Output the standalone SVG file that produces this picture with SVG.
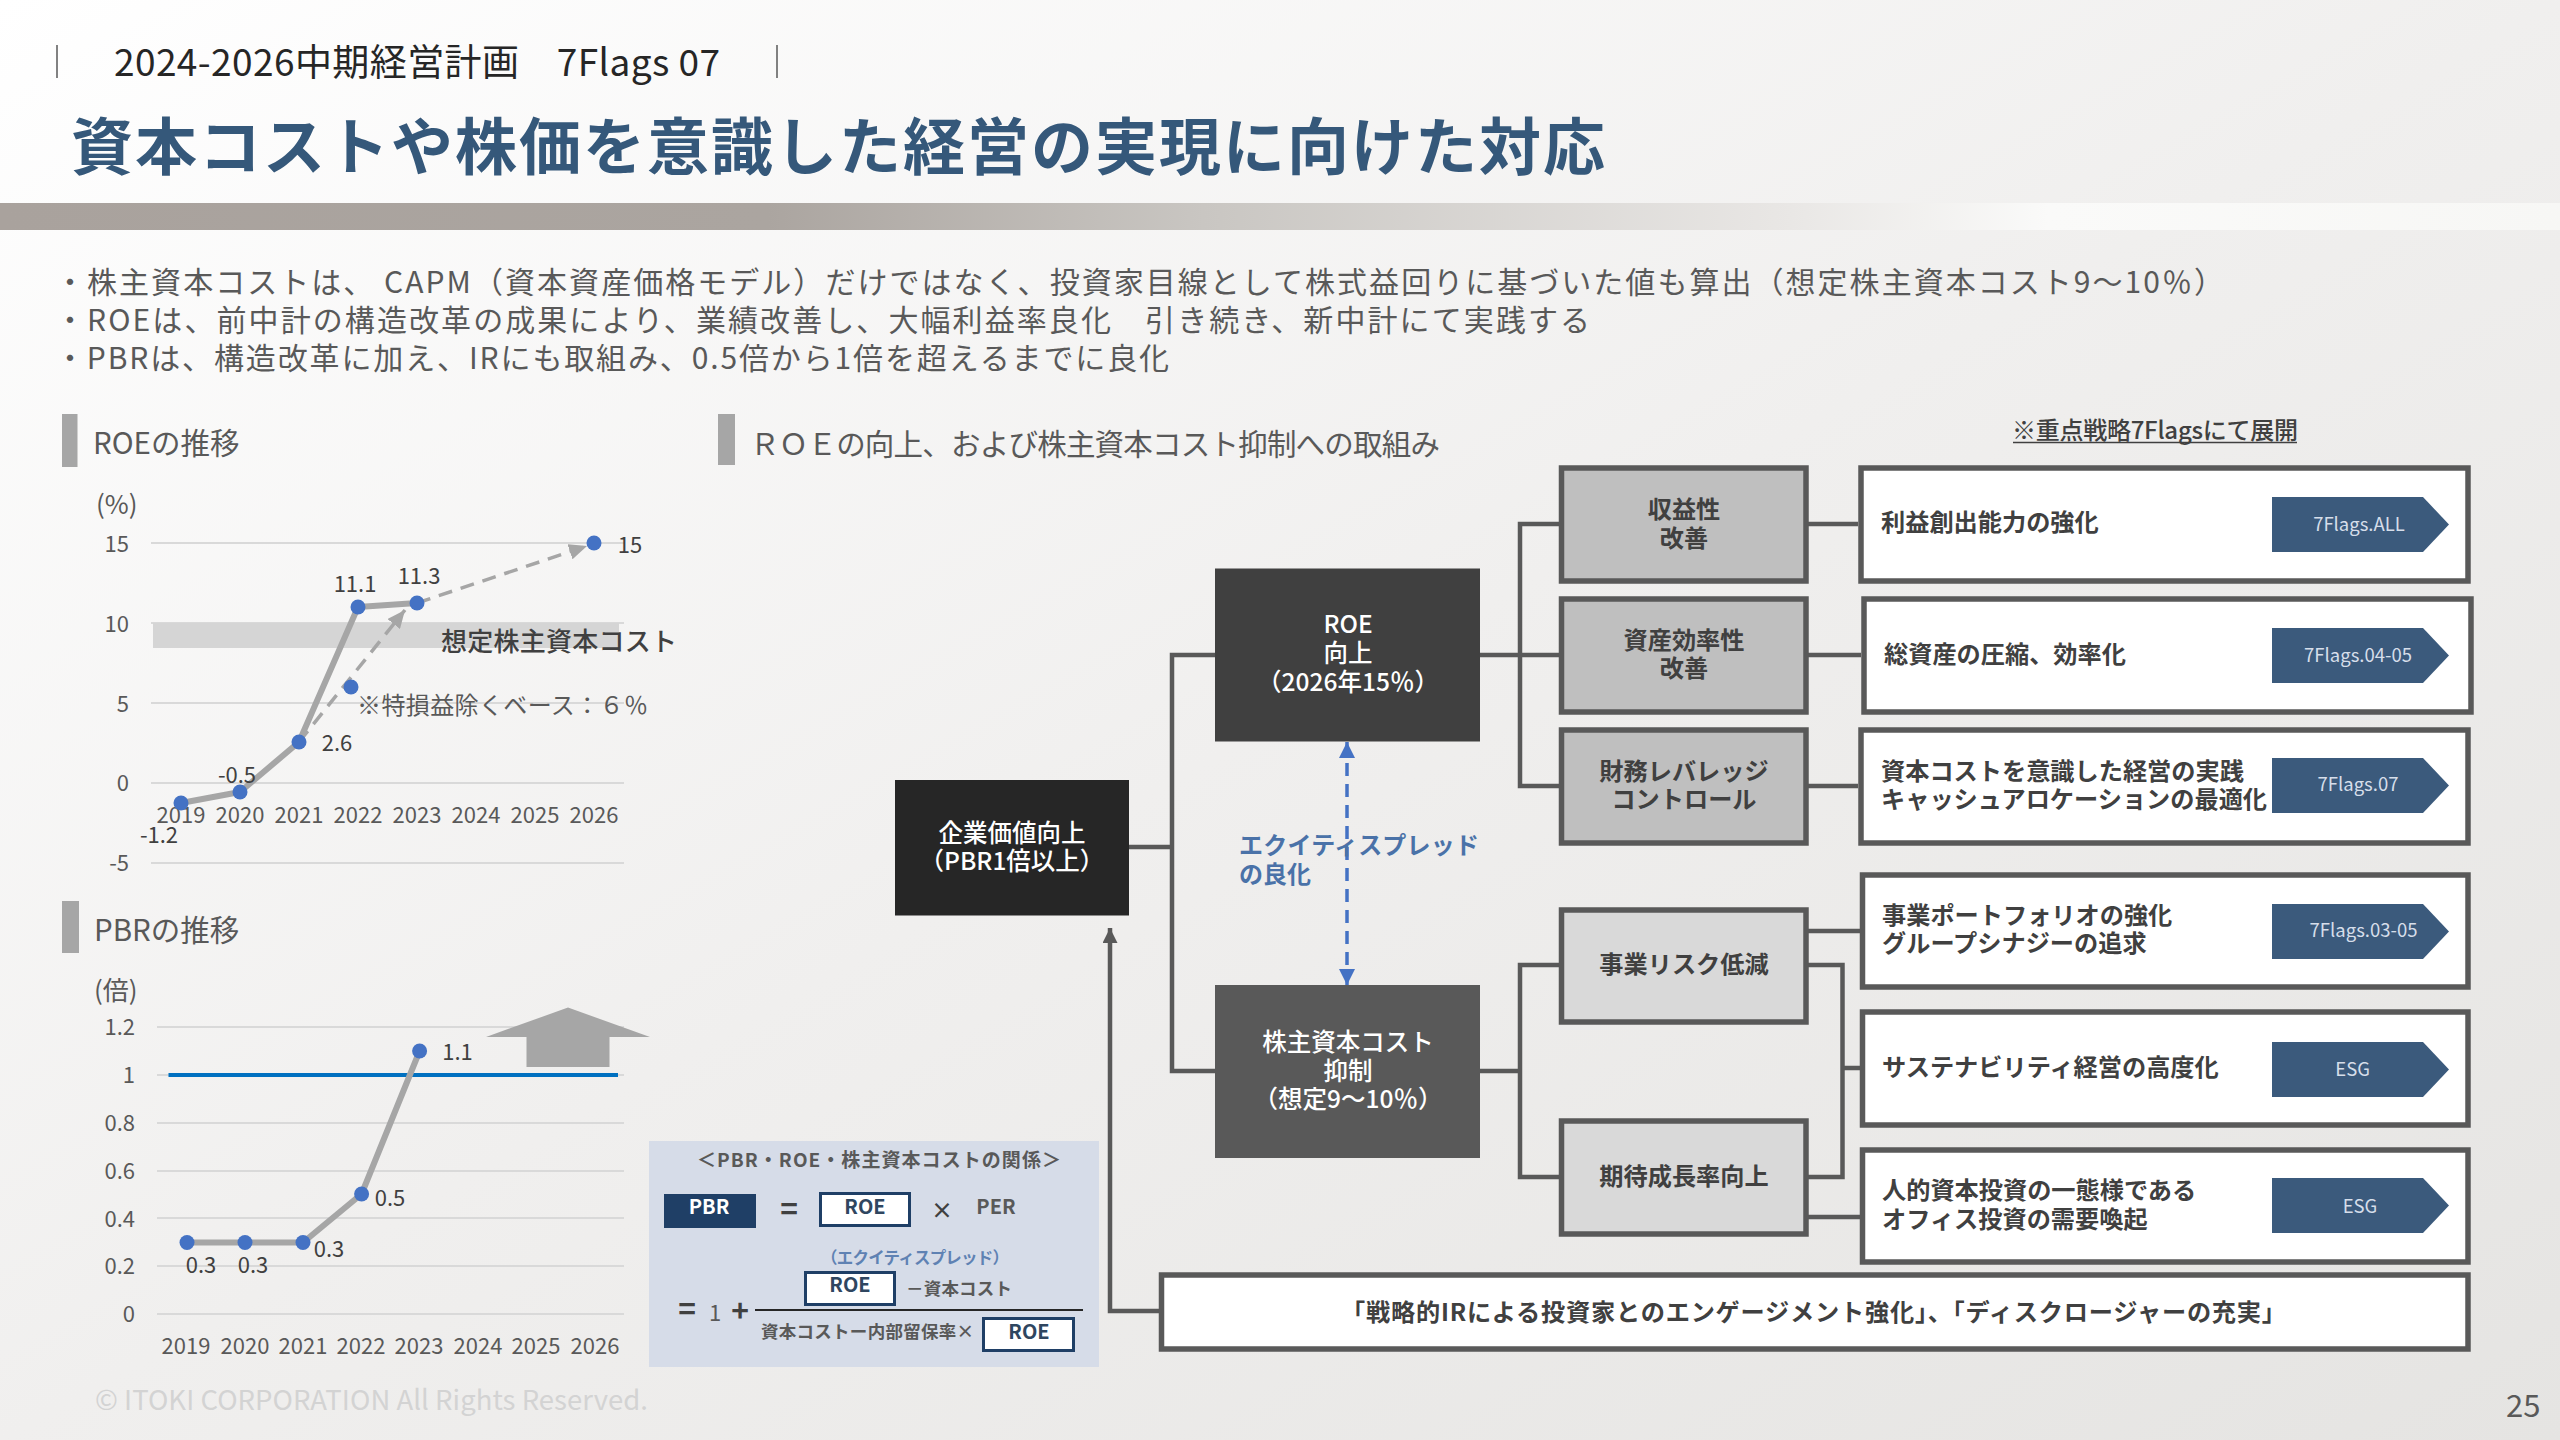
<svg xmlns="http://www.w3.org/2000/svg" width="2560" height="1440" viewBox="0 0 2560 1440">
<style>
text{font-family:"Noto Sans CJK JP","Noto Sans",sans-serif;dominant-baseline:central;transform:translateY(-2.5px)}
.b{font-weight:700}
.m{text-anchor:middle}
.e{text-anchor:end}
.body{font-size:30px;fill:#595959}
.h{font-size:29.500px;fill:#595959}
.ax{font-size:22px;fill:#595959}
.un{font-size:26px;fill:#595959}
.dl{font-size:22px;fill:#404040}
.grid{stroke:#d9d9d9;stroke-width:2;fill:none}
.ser{stroke:#a6a6a6;stroke-width:6;fill:none;stroke-linejoin:round}
.pt{fill:#4472c4}
.dash{stroke:#a6a6a6;stroke-width:3.500;stroke-dasharray:14 9;fill:none}
.c{stroke:#595959;stroke-width:4.500;fill:none}
.bx{stroke:#595959;stroke-width:5.500}
.lt{fill:#ffffff}
.mg{fill:#bfbfbf}
.lg{fill:#d9d9d9}
.nt{font-size:24.200px;font-weight:700;fill:#404040}
.wt{font-size:24.500px;fill:#ffffff;font-weight:500}
.tag{fill:#3b5a7c}
.tt{font-size:18.500px;fill:#d6deea}
.fb{fill:#ffffff;stroke:#1f3f66;stroke-width:3}
.ft{font-size:20px;font-weight:700;fill:#2f4660}
.fk{font-size:17.500px;font-weight:700;fill:#595959}
</style>
<defs>
<linearGradient id="bg" x1="0" y1="0" x2="1" y2="1"><stop offset="0" stop-color="#ffffff"/><stop offset="0.5" stop-color="#f0efee"/><stop offset="1" stop-color="#e5e4e2"/></linearGradient>
<linearGradient id="band" x1="0" y1="0" x2="1" y2="0"><stop offset="0" stop-color="#a9a29d"/><stop offset="0.3" stop-color="#aba5a0"/><stop offset="0.47" stop-color="#c9c6c2"/><stop offset="0.7" stop-color="#e9e7e5"/><stop offset="0.8" stop-color="#fafaf9"/><stop offset="1" stop-color="#f7f7f5"/></linearGradient>
<marker id="ga" markerUnits="userSpaceOnUse" viewBox="0 0 18 16" refX="18" refY="8" markerWidth="18" markerHeight="16" orient="auto"><path d="M0 0L18 8L0 16Z" fill="#a6a6a6"/></marker>
<marker id="da" markerUnits="userSpaceOnUse" viewBox="0 0 15 15" refX="15" refY="7.500" markerWidth="15" markerHeight="15" orient="auto"><path d="M0 0L15 7.500L0 15Z" fill="#595959"/></marker>
<marker id="ba" markerUnits="userSpaceOnUse" viewBox="0 0 16 16" refX="16" refY="8" markerWidth="16" markerHeight="16" orient="auto"><path d="M0 0L16 8L0 16Z" fill="#4472c4"/></marker>
<marker id="bs" markerUnits="userSpaceOnUse" viewBox="0 0 16 16" refX="0" refY="8" markerWidth="16" markerHeight="16" orient="auto"><path d="M16 0L0 8L16 16Z" fill="#4472c4"/></marker>
</defs>
<rect width="2560" height="1440" fill="url(#bg)"/>
<rect y="203" width="2560" height="27" fill="url(#band)"/>

<g id="header">
<path d="M57 45V78M777 45V78" stroke="#595959" stroke-width="1.500"/>
<text x="114" y="62" font-size="37" fill="#262626" textLength="606">2024-2026中期経営計画　7Flags 07</text>
<text x="71" y="145" font-size="62" font-weight="700" fill="#35587a" textLength="1534">資本コストや株価を意識した経営の実現に向けた対応</text>
<text class="body" x="55" y="282" textLength="2169">・株主資本コストは、 CAPM（資本資産価格モデル）だけではなく、投資家目線として株式益回りに基づいた値も算出（想定株主資本コスト9～10％）</text>
<text class="body" x="55" y="320" textLength="1535">・ROEは、前中計の構造改革の成果により、業績改善し、大幅利益率良化　引き続き、新中計にて実践する</text>
<text class="body" x="55" y="358" textLength="1114">・PBRは、構造改革に加え、IRにも取組み、0.5倍から1倍を超えるまでに良化</text>
</g>

<g id="roe-chart">
<rect x="62" y="414" width="15.500" height="53" fill="#a6a6a6"/>
<text class="h" x="93" y="443">ROEの推移</text>
<text class="un" x="96" y="505">(%)</text>
<path class="grid" d="M151 543H624M151 623H624M151 703H624M151 783H624M151 863H624"/>
<rect x="153" y="623" width="466" height="25" fill="#d5d5d5"/>
<text class="ax e" x="129" y="544">15</text><text class="ax e" x="129" y="624">10</text><text class="ax e" x="129" y="704">5</text><text class="ax e" x="129" y="783">0</text><text class="ax e" x="129" y="863">-5</text>
<text class="ax m" x="181" y="815">2019</text><text class="ax m" x="240" y="815">2020</text><text class="ax m" x="299" y="815">2021</text><text class="ax m" x="358" y="815">2022</text><text class="ax m" x="417" y="815">2023</text><text class="ax m" x="476" y="815">2024</text><text class="ax m" x="535" y="815">2025</text><text class="ax m" x="594" y="815">2026</text>
<path class="dash" d="M417 603L587 546" marker-end="url(#ga)"/>
<path class="dash" d="M299 742L405 610" marker-end="url(#ga)"/>
<path class="ser" d="M181 803L240 792L299 742L358 607L417 603"/>
<g class="pt"><circle cx="181" cy="803" r="7.500"/><circle cx="240" cy="792" r="7.500"/><circle cx="299" cy="742" r="7.500"/><circle cx="358" cy="607" r="7.500"/><circle cx="417" cy="603" r="7.500"/><circle cx="594" cy="543" r="7.500"/><circle cx="351" cy="687" r="7.500"/></g>
<text class="dl m" x="355" y="584">11.1</text><text class="dl m" x="419" y="576">11.3</text><text class="dl m" x="630" y="545">15</text><text class="dl m" x="337" y="743">2.6</text><text class="dl m" x="237" y="775">-0.5</text><text class="dl m" x="159" y="835">-1.2</text>
<text x="441" y="642" font-size="26" font-weight="500" fill="#404040" textLength="236">想定株主資本コスト</text>
<text x="357" y="706" font-size="24" fill="#595959" textLength="291">※特損益除くベース：６％</text>
</g>

<g id="pbr-chart">
<rect x="62" y="901" width="17" height="52" fill="#a6a6a6"/>
<text class="h" x="94" y="930">PBRの推移</text>
<text class="un" x="94" y="991">(倍)</text>
<path class="grid" d="M157 1027H624M157 1075H624M157 1123H624M157 1171H624M157 1218H624M157 1266H624M157 1314H624"/>
<text class="ax e" x="135" y="1027">1.2</text><text class="ax e" x="135" y="1075">1</text><text class="ax e" x="135" y="1123">0.8</text><text class="ax e" x="135" y="1171">0.6</text><text class="ax e" x="135" y="1219">0.4</text><text class="ax e" x="135" y="1266">0.2</text><text class="ax e" x="135" y="1314">0</text>
<text class="ax m" x="186" y="1346">2019</text><text class="ax m" x="245" y="1346">2020</text><text class="ax m" x="303" y="1346">2021</text><text class="ax m" x="361" y="1346">2022</text><text class="ax m" x="419" y="1346">2023</text><text class="ax m" x="478" y="1346">2024</text><text class="ax m" x="536" y="1346">2025</text><text class="ax m" x="595" y="1346">2026</text>
<path d="M168.500 1075H618" stroke="#0070c0" stroke-width="4" fill="none"/>
<path class="ser" d="M187 1242.500H303L361.600 1194L419.600 1051"/>
<g class="pt"><circle cx="187" cy="1242.500" r="7.500"/><circle cx="245" cy="1242.500" r="7.500"/><circle cx="303" cy="1242.500" r="7.500"/><circle cx="361.600" cy="1194" r="7.500"/><circle cx="419.600" cy="1051" r="7.500"/></g>
<text class="dl m" x="457.500" y="1052">1.1</text><text class="dl m" x="390" y="1198">0.5</text><text class="dl m" x="329" y="1249">0.3</text><text class="dl m" x="201" y="1265">0.3</text><text class="dl m" x="253" y="1265">0.3</text>
<polygon points="568,1007.500 650,1037 609.500,1037 609.500,1067 526.500,1067 526.500,1037 486,1037" fill="#a6a6a6"/>
</g>

<g id="formula">
<rect x="649" y="1141" width="450" height="226" fill="#d6dce8"/>
<text class="m b" x="879" y="1161" font-size="19" fill="#595959" textLength="364">＜PBR・ROE・株主資本コストの関係＞</text>
<rect x="664" y="1194" width="92" height="34" fill="#1f3f66"/><text class="ft m" style="fill:#fff" x="709" y="1208">PBR</text>
<text class="b m" x="789" y="1209" font-size="30" fill="#404040">=</text>
<rect class="fb" x="820.500" y="1193.500" width="89" height="32"/><text class="ft m" x="865" y="1208">ROE</text>
<text class="b m" x="942" y="1210" font-size="22" fill="#404040">×</text>
<text class="ft m" style="fill:#595959" x="996" y="1208">PER</text>
<text class="m b" x="915" y="1259" font-size="16.500" fill="#5f82b3" textLength="188">（エクイティスプレッド）</text>
<rect class="fb" x="805.500" y="1272.500" width="89" height="32"/><text class="ft m" x="850" y="1286">ROE</text>
<text class="fk" x="906" y="1290" textLength="106">－資本コスト</text>
<text class="b m" x="687" y="1309" font-size="30" fill="#404040">=</text>
<text class="m" x="715" y="1313" font-size="22" fill="#595959">1</text>
<text class="b m" x="740" y="1311" font-size="30" fill="#404040">+</text>
<path d="M755 1310H1083" stroke="#262626" stroke-width="2"/>
<text class="fk" x="761" y="1333" textLength="213">資本コストー内部留保率×</text>
<rect class="fb" x="983.500" y="1318.500" width="90" height="32"/><text class="ft m" x="1029" y="1333">ROE</text>
</g>

<g id="section-head">
<rect x="718" y="414" width="17" height="51" fill="#a6a6a6"/>
<text class="h" x="750" y="444" textLength="690">ＲＯＥの向上、および株主資本コスト抑制への取組み</text>
<text x="2012" y="431" font-size="24" font-weight="500" fill="#404040" textLength="286">※重点戦略7Flagsにて展開</text>
<path d="M2013 442.500H2297" stroke="#404040" stroke-width="1.500"/>
</g>

<g id="connectors">
<path class="c" d="M1129 847H1172M1215 655H1172V1071H1215"/>
<path class="c" d="M1480 655H1559M1559 524H1520V786H1559M1808 524H1858M1808 655H1861M1808 786H1858"/>
<path class="c" d="M1480 1071H1520M1559 965H1520V1177H1559M1808 931H1860M1808 965H1842.500V1177H1808M1842.500 1068H1860M1808 1217H1860"/>
<path d="M1347 742V985" stroke="#4472c4" stroke-width="3.500" stroke-dasharray="13 8" fill="none" marker-start="url(#bs)" marker-end="url(#ba)"/>
<path class="c" d="M1159 1311H1110V928" marker-end="url(#da)"/>
</g>

<g id="n-kigyo"><rect x="895" y="780" width="234" height="135.500" fill="#262626"/><text class="wt m" x="1012" y="834">企業価値向上</text><text class="wt m" x="1012" y="862">（PBR1倍以上）</text></g>
<g id="n-roe"><rect x="1215" y="568.500" width="265" height="173" fill="#404040"/><text class="wt m" x="1348" y="625">ROE</text><text class="wt m" x="1348" y="654">向上</text><text class="wt m" x="1348" y="683">（2026年15％）</text></g>
<g id="n-cost"><rect x="1215" y="985" width="265" height="173" fill="#595959"/><text class="wt m" x="1348" y="1043">株主資本コスト</text><text class="wt m" x="1348" y="1072">抑制</text><text class="wt m" x="1348" y="1100">（想定9～10％）</text></g>
<text class="b" x="1239" y="846" font-size="24" fill="#4a72a8" textLength="240">エクイティスプレッド</text>
<text class="b" x="1239" y="875" font-size="24" fill="#4a72a8">の良化</text>

<g id="n-shueki"><rect class="bx mg" x="1561.500" y="468" width="244.500" height="113"/><text class="nt m" x="1684" y="510">収益性</text><text class="nt m" x="1684" y="539">改善</text></g>
<g id="n-shisan"><rect class="bx mg" x="1561.500" y="599" width="244.500" height="113"/><text class="nt m" x="1684" y="641">資産効率性</text><text class="nt m" x="1684" y="669">改善</text></g>
<g id="n-zaimu"><rect class="bx mg" x="1561.500" y="730" width="244.500" height="113"/><text class="nt m" x="1684" y="772">財務レバレッジ</text><text class="nt m" x="1684" y="800">コントロール</text></g>
<g id="n-risk"><rect class="bx lg" x="1561.500" y="910" width="244.500" height="112"/><text class="nt m" x="1684" y="965">事業リスク低減</text></g>
<g id="n-growth"><rect class="bx lg" x="1561.500" y="1121" width="244.500" height="113"/><text class="nt m" x="1684" y="1177">期待成長率向上</text></g>

<g id="t-rieki"><rect class="bx lt" x="1861" y="468" width="607" height="113"/><polygon class="tag" points="2272,497 2423,497 2449,524.500 2423,552 2272,552"/><text class="nt" x="1881" y="523">利益創出能力の強化</text><text class="tt m" x="2359" y="525">7Flags.ALL</text></g>
<g id="t-soshisan"><rect class="bx lt" x="1864" y="599" width="607" height="113"/><polygon class="tag" points="2272,628 2423,628 2449,655.500 2423,683 2272,683"/><text class="nt" x="1884" y="655">総資産の圧縮、効率化</text><text class="tt m" x="2358" y="656">7Flags.04-05</text></g>
<g id="t-capital"><rect class="bx lt" x="1861" y="730" width="607" height="113"/><polygon class="tag" points="2272,758 2423,758 2449,785.500 2423,813 2272,813"/><text class="nt" x="1881" y="772">資本コストを意識した経営の実践</text><text class="nt" x="1881" y="800">キャッシュアロケーションの最適化</text><text class="tt m" x="2358" y="785">7Flags.07</text></g>
<g id="t-portfolio"><rect class="bx lt" x="1862.500" y="875" width="605.500" height="112"/><polygon class="tag" points="2272,904 2423,904 2449,931.500 2423,959 2272,959"/><text class="nt" x="1882" y="916">事業ポートフォリオの強化</text><text class="nt" x="1882" y="944">グループシナジーの追求</text><text class="tt m" x="2363.500" y="931">7Flags.03-05</text></g>
<g id="t-sustain"><rect class="bx lt" x="1862.500" y="1012" width="605.500" height="113"/><polygon class="tag" points="2272,1042 2423,1042 2449,1069.500 2423,1097 2272,1097"/><text class="nt" x="1882" y="1068">サステナビリティ経営の高度化</text><text class="tt m" x="2352.700" y="1070">ESG</text></g>
<g id="t-office"><rect class="bx lt" x="1862.500" y="1150" width="605.500" height="112"/><polygon class="tag" points="2272,1178 2423,1178 2449,1205.500 2423,1233 2272,1233"/><text class="nt" x="1882" y="1191">人的資本投資の一態様である</text><text class="nt" x="1882" y="1220">オフィス投資の需要喚起</text><text class="tt m" x="2360" y="1207">ESG</text></g>
<g id="t-ir"><rect class="bx lt" x="1161.500" y="1275" width="1306.500" height="74"/><text class="nt" x="1341" y="1313" textLength="945">「戦略的IRによる投資家とのエンゲージメント強化」、「ディスクロージャーの充実」</text></g>

<g id="footer">
<text x="95" y="1400" font-size="27.500" fill="#d3d3d3" textLength="553">© ITOKI CORPORATION All Rights Reserved.</text>
<text x="2506" y="1406" font-size="31" fill="#595959">25</text>
</g>
</svg>
